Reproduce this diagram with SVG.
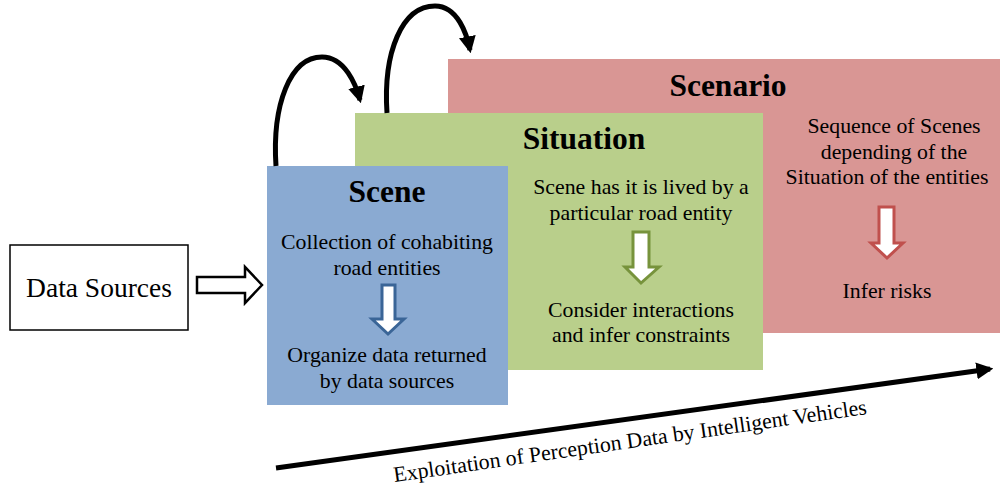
<svg xmlns="http://www.w3.org/2000/svg" width="1000" height="486" viewBox="0 0 1000 486">
<defs>
<style>
text{font-family:"Liberation Serif","Times New Roman",serif;fill:#000}
.t{font-size:21.8px;text-anchor:middle}
.h{font-size:31.5px;font-weight:bold;text-anchor:middle}
.c{fill:none;stroke:#000;stroke-width:5}
</style>
<marker id="ah" viewBox="0 0 10 10" refX="8" refY="5" markerWidth="3.4" markerHeight="3.4" orient="auto" markerUnits="strokeWidth">
<path d="M0,0 L10,5 L0,10 Z" fill="#000"/>
</marker>
</defs>
<rect width="1000" height="486" fill="#fff"/>
<g id="scenario">
<rect x="448" y="59" width="552" height="274" fill="#d99694"/>
<text class="h" x="728" y="96">Scenario</text>
<text class="t" x="894" y="133">Sequence of Scenes</text>
<text class="t" x="894" y="159">depending of the</text>
<text class="t" x="887" y="184">Situation of the entities</text>
<path d="M879,207 H894 V243 H903 L887,258 L871,243 H879 Z" fill="#fff" stroke="#c0504d" stroke-width="3"/>
<text class="t" x="887" y="298">Infer risks</text>
</g>
<g id="situation">
<rect x="355" y="113" width="408" height="257" fill="#b9cf8b"/>
<text class="h" x="584" y="149">Situation</text>
<text class="t" x="641" y="194">Scene has it is lived by a</text>
<text class="t" x="641" y="220">particular road entity</text>
<path d="M633,232 H649 V267 H659 L641,283 L625,267 H633 Z" fill="#fff" stroke="#77933c" stroke-width="3"/>
<text class="t" x="641" y="317">Consider interactions</text>
<text class="t" x="641" y="342">and infer constraints</text>
</g>
<g id="scene">
<rect x="267" y="166" width="241" height="239" fill="#8aaad2"/>
<text class="h" x="387" y="202">Scene</text>
<text class="t" x="387" y="249">Collection of cohabiting</text>
<text class="t" x="387" y="275">road entities</text>
<path d="M382,285 H395 V319 H404 L388,334 L372,319 H382 Z" fill="#fff" stroke="#3a6597" stroke-width="3"/>
<text class="t" x="387" y="362">Organize data returned</text>
<text class="t" x="387" y="388">by data sources</text>
</g>
<g id="data-sources">
<rect x="10" y="245" width="178" height="85" fill="#fff" stroke="#000" stroke-width="1.5"/>
<text x="99" y="297" style="font-size:27.5px;text-anchor:middle">Data Sources</text>
</g>
<g id="connectors">
<path d="M197,277 H245 V267 L262,285 L245,303 V293 H197 Z" fill="#fff" stroke="#000" stroke-width="2.5"/>
<path class="c" d="M276,166 C272,105 290,57 322,57 C345,57 356,85 360,100" marker-end="url(#ah)"/>
<path class="c" d="M387,113 C383,52 402,6 435,6 C458,6 467,35 470,50" marker-end="url(#ah)"/>
<path class="c" d="M276,468 L990,369" marker-end="url(#ah)"/>
<text x="631" y="448" transform="rotate(-8.2 631 448)" style="font-size:21.8px;text-anchor:middle">Exploitation of Perception Data by Intelligent Vehicles</text>
</g>
</svg>
